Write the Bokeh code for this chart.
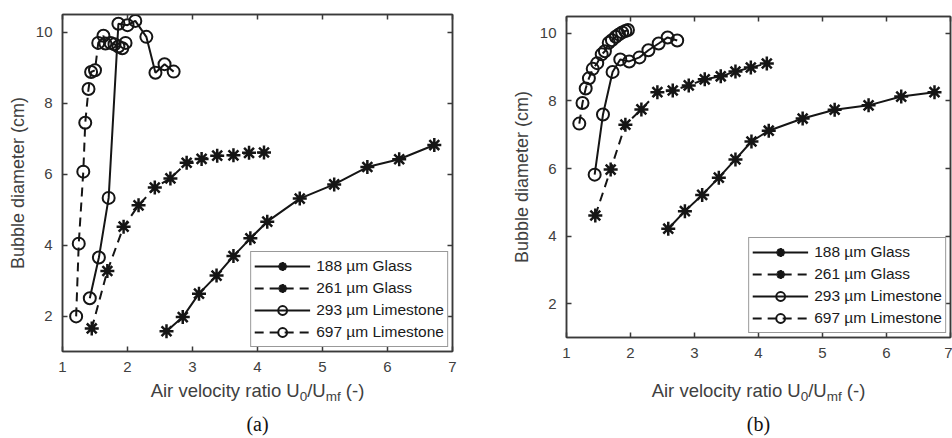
import math
from bokeh.plotting import figure
from bokeh.models import LinearAxis, Legend, LegendItem, FixedTicker, Range1d
from bokeh.layouts import row, column
from bokeh.core.properties import value
from bokeh.embed import file_html
from bokeh.resources import INLINE

# ---------------- data ----------------
X_TICKS = [1, 2, 3, 4, 5, 6, 7]
Y_TICKS = [2, 4, 6, 8, 10]
LEGEND_LABELS = ["188 µm Glass", "261 µm Glass", "293 µm Limestone", "697 µm Limestone"]
CAPTIONS = ["(a)", "(b)"]
Y_LABEL = "Bubble diameter (cm)"
X_LABEL_PARTS = ["Air velocity ratio U", "0", "/U", "mf", " (-)"]

# panel (a)
a_g188_x = [2.6, 2.85, 3.1, 3.37, 3.63, 3.89, 4.15, 4.65, 5.18, 5.69, 6.18, 6.72]
a_g188_y = [1.57, 1.97, 2.63, 3.14, 3.69, 4.19, 4.66, 5.31, 5.71, 6.2, 6.42, 6.82]
a_g261_x = [1.45, 1.69, 1.94, 2.17, 2.42, 2.66, 2.91, 3.14, 3.38, 3.63, 3.87, 4.1]
a_g261_y = [1.65, 3.27, 4.52, 5.12, 5.62, 5.88, 6.32, 6.43, 6.52, 6.53, 6.6, 6.61]
a_l293_x = [1.42, 1.56, 1.71, 1.86, 2.0, 2.12, 2.29, 2.43, 2.57, 2.71]
a_l293_y = [2.5, 3.65, 5.33, 10.24, 10.2, 10.32, 9.87, 8.86, 9.1, 8.89]
a_l697_x = [1.21, 1.25, 1.32, 1.35, 1.4, 1.44, 1.5, 1.55, 1.63, 1.66, 1.74, 1.8, 1.86, 1.92, 1.97]
a_l697_y = [1.99, 4.04, 6.07, 7.45, 8.4, 8.88, 8.93, 9.7, 9.9, 9.68, 9.7, 9.66, 9.6, 9.55, 9.7]

# panel (b)
b_g188_x = [2.59, 2.85, 3.12, 3.38, 3.64, 3.89, 4.16, 4.69, 5.19, 5.72, 6.23, 6.75]
b_g188_y = [4.22, 4.74, 5.22, 5.73, 6.27, 6.8, 7.12, 7.48, 7.74, 7.87, 8.13, 8.26]
b_g261_x = [1.45, 1.69, 1.92, 2.17, 2.42, 2.66, 2.91, 3.16, 3.41, 3.64, 3.88, 4.13]
b_g261_y = [4.61, 5.97, 7.3, 7.75, 8.26, 8.31, 8.46, 8.64, 8.73, 8.87, 8.99, 9.11]
b_l293_x = [1.44, 1.57, 1.72, 1.84, 1.98, 2.14, 2.28, 2.44, 2.58, 2.73]
b_l293_y = [5.82, 7.6, 8.86, 9.23, 9.17, 9.29, 9.5, 9.7, 9.88, 9.79]
b_l697_x = [1.2, 1.25, 1.3, 1.35, 1.41, 1.48, 1.55, 1.6, 1.66, 1.71, 1.77, 1.82, 1.87, 1.92, 1.96]
b_l697_y = [7.33, 7.94, 8.37, 8.67, 8.95, 9.12, 9.38, 9.47, 9.72, 9.8, 9.9, 9.97, 10.03, 10.07, 10.1]

# ---------------- styling ----------------
FONT = "Liberation Sans"
SERIF = "Liberation Serif"
AX_COL = "#3a3a3a"
TXT_COL = "#404040"
DATA_COL = "#151515"
STYLES = [("solid", "asterisk"), ("9 6", "asterisk"), ("solid", "circle"), ("9 6", "circle")]

# Arial / Liberation Sans advance widths (per 1000 em), used to place the label pieces
W = {"A": 667, "i": 222, "r": 333, " ": 278, "v": 500, "e": 556, "l": 222, "o": 556,
     "c": 500, "t": 278, "y": 500, "a": 556, "U": 722, "0": 556, "/": 278, "m": 833,
     "f": 278, "(": 333, "-": 333, ")": 333}


def twidth(s, size):
    return sum(W.get(ch, 556) for ch in s) * size / 1000.0


def make_panel(series, borders, height, ylab_standoff):
    bl, br, bt, bb = borders
    p = figure(width=476, height=height, output_backend="svg", toolbar_location=None, title=None,
               x_range=Range1d(1, 7), y_range=Range1d(1, 10.5),
               min_border_left=bl, min_border_right=br, min_border_top=bt, min_border_bottom=bb,
               background_fill_color="white", border_fill_color="white")
    p.frame_align = False
    p.grid.visible = False
    p.outline_line_color = AX_COL
    p.outline_line_width = 1.5

    def style_axis(ax, labels=True):
        ax.axis_line_color = AX_COL
        ax.axis_line_width = 1.5
        ax.major_tick_line_color = AX_COL
        ax.major_tick_line_width = 1.5
        ax.major_tick_in = 5
        ax.major_tick_out = 0
        ax.minor_tick_line_color = None
        ax.minor_tick_in = 0
        ax.minor_tick_out = 0
        if labels:
            ax.major_label_text_font = FONT
            ax.major_label_text_font_size = "15px"
            ax.major_label_text_color = TXT_COL
        else:
            ax.major_label_text_font_size = "0px"
            ax.major_label_text_color = None
            ax.major_label_standoff = 0
            ax.axis_label_standoff = 0

    p.xaxis.ticker = FixedTicker(ticks=X_TICKS)
    p.yaxis.ticker = FixedTicker(ticks=Y_TICKS)
    style_axis(p.xaxis[0])
    style_axis(p.yaxis[0])
    p.xaxis.major_label_standoff = 10
    p.yaxis.major_label_standoff = 10
    p.yaxis.axis_label = Y_LABEL
    p.yaxis.axis_label_text_font = FONT
    p.yaxis.axis_label_text_font_size = "18px"
    p.yaxis.axis_label_text_font_style = "normal"
    p.yaxis.axis_label_text_color = TXT_COL
    p.yaxis.axis_label_standoff = ylab_standoff

    top = LinearAxis(ticker=FixedTicker(ticks=X_TICKS))
    style_axis(top, labels=False)
    p.add_layout(top, "above")
    right = LinearAxis(ticker=FixedTicker(ticks=Y_TICKS))
    style_axis(right, labels=False)
    p.add_layout(right, "right")

    items = []
    for (xs, ys), label, (dash, marker) in zip(series, LEGEND_LABELS, STYLES):
        lr = p.line(xs, ys, line_color=DATA_COL, line_width=2, line_dash=dash)
        if marker == "asterisk":
            sr = p.scatter(xs, ys, marker="asterisk", size=14, line_color=DATA_COL, line_width=2.5)
        else:
            sr = p.scatter(xs, ys, marker="circle", size=12, line_color=DATA_COL,
                           fill_color=None, line_width=2)
        items.append(LegendItem(label=label, renderers=[lr, sr]))

    legend = Legend(items=items, location="bottom_right")
    legend.label_text_font = FONT
    legend.label_text_font_size = "15.5px"
    legend.label_text_color = "#1a1a1a"
    legend.glyph_width = 56
    legend.glyph_height = 22
    legend.label_height = 22
    legend.label_standoff = 6
    legend.spacing = 0
    legend.padding = 3
    legend.margin = 4
    legend.border_line_color = "#333333"
    legend.border_line_width = 1
    legend.background_fill_color = "white"
    legend.background_fill_alpha = 1.0
    p.add_layout(legend)
    return p


def make_strip(x0, y_top, center_x, lab_baseline, cap_baseline, caption):
    # page-pixel coordinate strip under a panel holding the x label and the caption
    height = 438 - y_top
    s = figure(width=476, height=height, output_backend="svg", toolbar_location=None, title=None,
               x_range=Range1d(x0, x0 + 476), y_range=Range1d(438, y_top),
               x_axis_location=None, y_axis_location=None,
               min_border_left=0, min_border_right=0, min_border_top=0, min_border_bottom=0,
               background_fill_color="white", border_fill_color="white")
    s.frame_align = False
    s.grid.visible = False
    s.outline_line_color = None
    big, small = 18.5, 13.5
    sizes = [big, small, big, small, big]
    drops = [0, 6, 0, 6, 0]
    total = sum(twidth(t, z) for t, z in zip(X_LABEL_PARTS, sizes))
    xpos = center_x - total / 2.0
    for t, z, d in zip(X_LABEL_PARTS, sizes, drops):
        shown = t.lstrip()
        lead = twidth(t[: len(t) - len(shown)], z)
        s.text(x=[xpos + lead], y=[lab_baseline + d], text=[shown], text_font=value(FONT),
               text_font_size=f"{z}px", text_color=TXT_COL,
               text_align="left", text_baseline="alphabetic")
        xpos += twidth(t, z)
    s.text(x=[center_x], y=[cap_baseline], text=[caption], text_font=value(SERIF),
           text_font_size="20px", text_color="#111111",
           text_align="center", text_baseline="alphabetic")
    return s


TOP_H = 378
pa = make_panel([(a_g188_x, a_g188_y), (a_g261_x, a_g261_y), (a_l293_x, a_l293_y), (a_l697_x, a_l697_y)],
                borders=(62, 24, 14, TOP_H - 351), height=TOP_H, ylab_standoff=5)
pb = make_panel([(b_g188_x, b_g188_y), (b_g261_x, b_g261_y), (b_l293_x, b_l293_y), (b_l697_x, b_l697_y)],
                borders=(90, 2, 16, TOP_H - 337), height=TOP_H, ylab_standoff=5)
sa = make_strip(0, TOP_H, 257, 390, 423, CAPTIONS[0])
sb = make_strip(476, TOP_H, 758, 390, 423, CAPTIONS[1])

layout = row(column(pa, sa), column(pb, sb))
open("out.html", "w").write(file_html(layout, INLINE))
